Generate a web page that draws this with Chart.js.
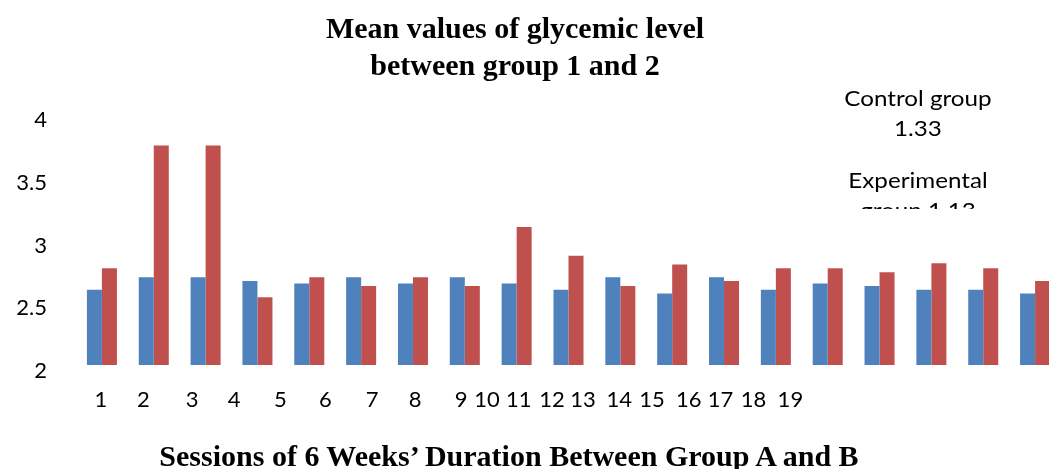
<!DOCTYPE html>
<html>
<head>
<meta charset="utf-8">
<script src="https://cdn.jsdelivr.net/npm/chart.js@4.4.1/dist/chart.umd.min.js"></script>
<style>
  html, body { margin: 0; padding: 0; background: #fff; overflow: hidden; width: 1049px; height: 469px; }
  #wrap { position: relative; width: 1075px; height: 469px; }
  #c { position: absolute; left: 0; top: 0; }
  .txt { position: absolute; white-space: nowrap; color: #000; text-align: center; }
  #title { left: 515px; top: 9px; transform: translateX(-50%); font: bold 30px "Liberation Serif", "Times New Roman", serif; line-height: 37px; }
  #xtitle { left: 509px; top: 441px; transform: translateX(-50%); font: bold 30px "Liberation Serif", "Times New Roman", serif; line-height: 30px; }
  #note { position: absolute; left: 818px; top: 80px; width: 200px; height: 129px; overflow: hidden; }
  #note div { font: 22px Lato, "Open Sans", sans-serif; line-height: 29.5px; text-align: center; transform: scaleX(1.1); }
</style>
</head>
<body>
<div id="wrap">
  <canvas id="c" width="1075" height="469"></canvas>
  <div id="title" class="txt">Mean values of glycemic level<br>between group 1 and 2</div>
  <div id="xtitle" class="txt">Sessions of 6 Weeks’ Duration Between Group A and B</div>
  <div id="note">
    <div style="margin-top:3px">Control group<br>1.33</div>
    <div style="margin-top:23px">Experimental<br>group 1.13</div>
  </div>
</div>
<script>
// ---- data ----
const categories = ['1','2','3','4','5','6','7','8','9','10','11','12','13','14','15','16','17','18','19'];
const seriesA = [2.60, 2.70, 2.70, 2.67, 2.65, 2.70, 2.65, 2.70, 2.65, 2.60, 2.70, 2.57, 2.70, 2.60, 2.65, 2.63, 2.60, 2.60, 2.57];
const seriesB = [2.77, 3.75, 3.75, 2.54, 2.70, 2.63, 2.70, 2.63, 3.10, 2.87, 2.63, 2.80, 2.67, 2.77, 2.77, 2.74, 2.81, 2.77, 2.67];
const sessionLabels = ['1','2','3','4','5','6','7','8','9','10','11','12','13','14','15','16','17','18','19'];
const yTicks = [2, 2.5, 3, 3.5, 4];
// label placement along the category axis (in category units), as in the reference
const sessionLabelPos = [-0.02, 0.80, 1.74, 2.55, 3.44, 4.31, 5.21, 6.04, 6.93, 7.43, 8.04, 8.68, 9.28, 9.98, 10.61, 11.32, 11.93, 12.57, 13.28];

const clipLabels = {
  id: 'clipLabels',
  afterDraw(chart) {
    chart.ctx.clearRect(0, 407, chart.width, 28);
  }
};

new Chart(document.getElementById('c'), {
  type: 'bar',
  data: {
    labels: categories,
    datasets: [
      { label: 'Group A', data: seriesA, backgroundColor: '#4F81BD', borderWidth: 0, categoryPercentage: 0.579, barPercentage: 1.0 },
      { label: 'Group B', data: seriesB, backgroundColor: '#C0504D', borderWidth: 0, categoryPercentage: 0.579, barPercentage: 1.0 }
    ]
  },
  options: {
    responsive: false,
    devicePixelRatio: 1,
    animation: false,
    layout: { padding: { top: 114, left: 0, right: 14, bottom: 0 } },
    plugins: { legend: { display: false }, title: { display: false }, tooltip: { enabled: false } },
    scales: {
      x: { type: 'category', display: false, offset: true },
      xl: {
        type: 'linear', position: 'bottom', min: -0.5, max: 18.5, bounds: 'data', offset: false,
        grid: { display: false, drawTicks: false, offset: false }, border: { display: false },
        afterBuildTicks: (axis) => {
          axis.ticks = sessionLabelPos.map(v => ({ value: v }));
          axis.min = -0.5; axis.max = 18.5;
        },
        afterFit: (axis) => { axis.height = 104; },
        ticks: {
          autoSkip: false, maxRotation: 0, minRotation: 0, padding: 22,
          color: '#000', font: { family: 'Lato', size: 22 },
          callback: (v, i) => sessionLabels[i]
        }
      },
      y: {
        min: 2, max: 4,
        grid: { display: false, drawTicks: false }, border: { display: false },
        afterBuildTicks: (axis) => { axis.ticks = yTicks.map(v => ({ value: v })); },
        afterFit: (axis) => { axis.width = 76; },
        ticks: {
          padding: 29, labelOffset: 6, color: '#000', font: { family: 'Lato', size: 22 },
          callback: (v) => String(v)
        }
      }
    }
  },
  plugins: [clipLabels]
});
</script>
</body>
</html>
